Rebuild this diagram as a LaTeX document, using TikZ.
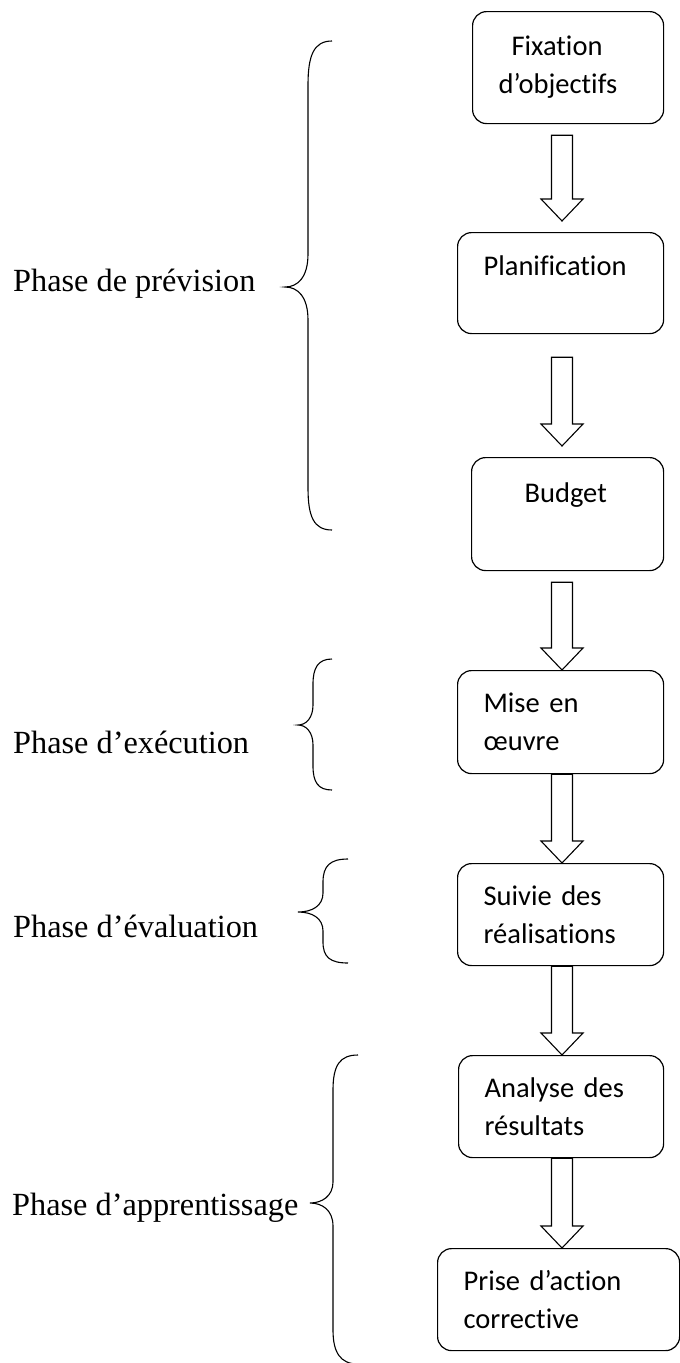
\documentclass[tikz,border=0pt]{standalone}
\usepackage{fontspec}
\setmainfont{Liberation Serif}
\newfontfamily\calib[Ligatures=NoCommon]{Carlito}
\usetikzlibrary{calc}
\tikzset{
  box/.style={draw, line width=1.2pt, rounded corners=14pt, anchor=north west,
    font=\calib\fontsize{28.5}{38}\selectfont, align=left, inner xsep=26pt, inner ysep=0pt},
  blockarrow/.style={draw, line width=1.1pt, line join=miter},
  bracestyle/.style={draw, line width=1.1pt},
  phase/.style={font=\fontsize{32.3}{38}\selectfont, anchor=base west, inner sep=0pt}
}
\newcommand\blkarrow[4]{%
  \coordinate (A1) at ($(#1.south -| ax)+(0,#3)$);
  \coordinate (A2) at ($(#2.north -| ax)+(0,-#4)$);
  \draw[blockarrow] ($(A1)+(-10.5,0)$) -- ($(A2)+(-10.5,-22)$) -- ($(A2)+(-21,-22)$) -- (A2)
    -- ($(A2)+(21,-22)$) -- ($(A2)+(10.5,-22)$) -- ($(A1)+(10.5,0)$) -- cycle;
}
\begin{document}
\begin{tikzpicture}[x=1pt, y=-1pt]
\useasboundingbox (0,0) rectangle (680,1363);
\coordinate (ax) at (562,0);

% boxes
\node[box, text width=139pt, minimum height=112pt] (b1) at (472,11) {\hspace*{13pt}Fixation\\d’objectifs};
\node[box, text width=154pt, minimum height=101pt, text height=43pt, text depth=58pt] (b2) at (457,232) {Planification};
\node[box, text width=140pt, minimum height=113pt, text height=45pt, text depth=68pt] (b3) at (471,457) {\hspace*{27pt}Budget};
\node[box, text width=154pt, minimum height=103pt] (b4) at (457,670) {Mise en\\œuvre};
\node[box, text width=154pt, minimum height=102pt] (b5) at (457,863) {Suivie des\\réalisations};
\node[box, text width=153pt, minimum height=102pt] (b6) at (458,1055) {Analyse des\\résultats};
\node[box, text width=190pt, minimum height=102pt] (b7) at (437,1248) {Prise d’action\\corrective};

% block arrows
\blkarrow{b1}{b2}{11}{11}
\blkarrow{b2}{b3}{23}{11}
\blkarrow{b3}{b4}{11}{0}
\blkarrow{b4}{b5}{0}{0}
\blkarrow{b5}{b6}{0}{0}
\blkarrow{b6}{b7}{0}{0}

% phase labels
\node[phase] (p1) at (13,291) {Phase de prévision};
\node[phase] (p2) at (13,753) {Phase d’exécution};
\node[phase] (p3) at (13,937) {Phase d’évaluation};
\node[phase] (p4) at (12,1215) {Phase d’apprentissage};

% braces
\draw[bracestyle] (332,41) .. controls (314,41) and (308,55) .. (308,85) -- (308,254)
  .. controls (308,277) and (298,287) .. (285,287)
  .. controls (298,287) and (308,297) .. (308,320) -- (308,488)
  .. controls (308,517) and (314,530) .. (332,530);
\draw[bracestyle] (332,659) .. controls (318,659) and (313,668) .. (313,684) -- (313,705)
  .. controls (313,718) and (306,725) .. (298,725)
  .. controls (306,725) and (313,732) .. (313,745) -- (313,766)
  .. controls (313,782) and (318,790) .. (332,790);
\draw[bracestyle] (348,859) .. controls (330,859) and (323,866) .. (323,882) -- (323,893)
  .. controls (323,906) and (312,912) .. (298,912)
  .. controls (312,912) and (323,918) .. (323,931) -- (323,942)
  .. controls (323,957) and (330,963) .. (348,963);
\draw[bracestyle] (358,1055) .. controls (340,1055) and (333,1065) .. (333,1090) -- (333,1182)
  .. controls (333,1196) and (322,1203) .. (310,1203)
  .. controls (322,1203) and (333,1210) .. (333,1226) -- (333,1330)
  .. controls (333,1352) and (340,1364) .. (358,1364);
\end{tikzpicture}
\end{document}
